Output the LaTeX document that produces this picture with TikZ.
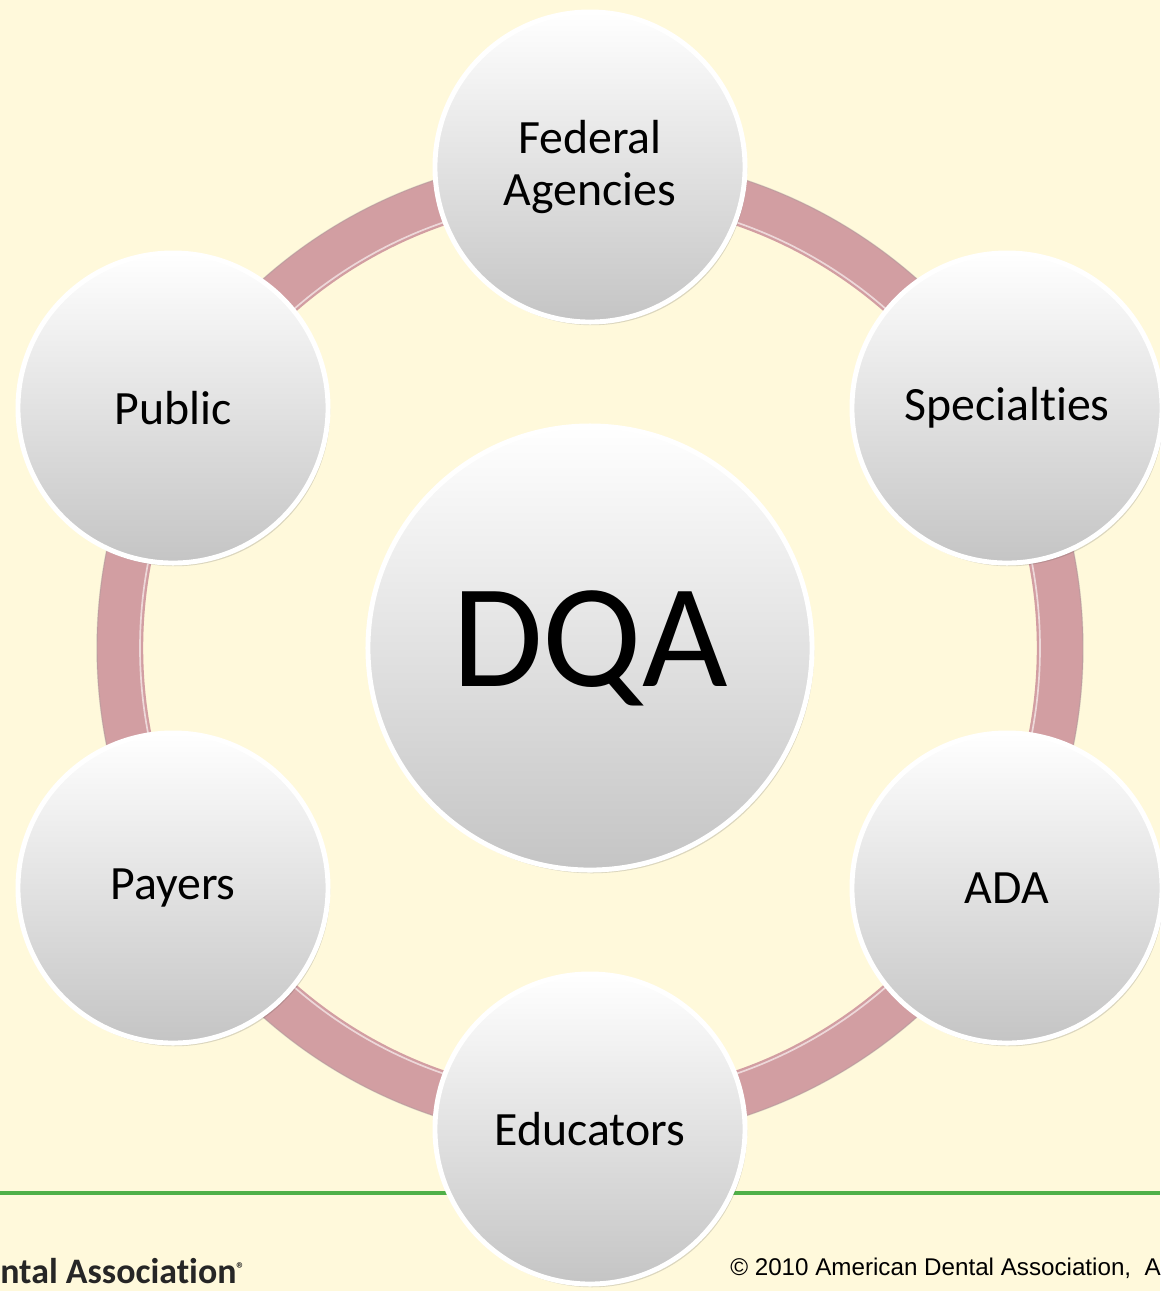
\documentclass[tikz,border=0pt]{standalone}
\usepackage{fontspec}
\setmainfont{Carlito}[Ligatures=NoCommon]
\newfontfamily\footfont{Liberation Sans}
\usetikzlibrary{shadows}
\definecolor{paper}{RGB}{255,249,219}
\definecolor{ringpink}{RGB}{210,158,162}
\definecolor{rulegreen}{RGB}{80,176,72}
\begin{document}
\begin{tikzpicture}[x=0.025cm, y=-0.025cm,
  disc/.style={circle, inner sep=0pt, draw=white, line width=3.5pt,
    shading=axis, top color=white, bottom color=black!23,
    drop shadow={shadow xshift=0.5mm, shadow yshift=-0.8mm, opacity=0.2, fill=black!70},
    align=center, font=\fontsize{34}{37}\selectfont},
  satellite/.style={disc, minimum size=7.75cm},
  hub/.style={disc, minimum size=11.1cm, font=\fontsize{105}{110}\selectfont},
  ringline/.style={draw=ringpink, line width=33pt}]
\useasboundingbox[fill=paper] (0,0) rectangle (1160,1291);
\coordinate (mid) at (590,648);
% ring behind the circles
\draw[ringline] (mid) circle[radius=470];
\draw[white, opacity=0.6, line width=1.2pt] (mid) circle[radius=450];
\draw[black!40, opacity=0.3, line width=1pt] (mid) circle[radius=493];
% green rule
\coordinate (rulel) at (0,1193);
\coordinate (ruler) at (1160,1193);
\draw[rulegreen, line width=2.2pt] (rulel) -- (ruler);
% circles
\node[hub] (dqa) at (mid) {DQA};
\node[satellite] (fed) at (590,167) {Federal\\Agencies};
\node[satellite] (spec) at (1007,408) {Specialties};
\node[satellite] (ada) at (1007,888) {ADA};
\node[satellite] (edu) at (590,1129) {Educators};
\node[satellite] (pay) at (173,888) {Payers};
\node[satellite] (pub) at (173,408) {Public};
% footer
\node[anchor=base west, inner sep=0pt, font=\bfseries\fontsize{25.5}{28}\selectfont, text=black!85]
  (logo) at (0,1283) {ntal Association{\fontsize{12}{12}\selectfont\raisebox{1.1ex}{®}}};
\node[anchor=base west, inner sep=0pt, font=\footfont\fontsize{17.2}{19}\selectfont]
  (copy) at (730,1275) {©\ 2010 American Dental Association,\ \ A};
\end{tikzpicture}
\end{document}
